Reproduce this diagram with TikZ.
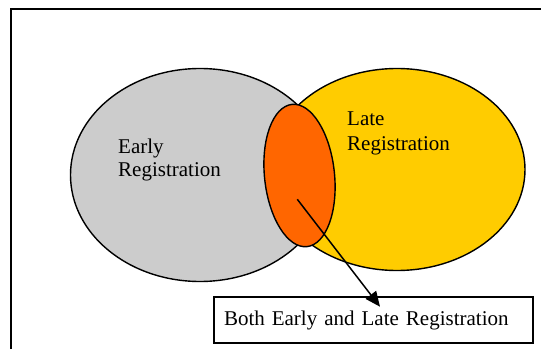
\documentclass[tikz,border=0pt]{standalone}
\usepackage{fontspec}
\setmainfont{Liberation Serif}
\usetikzlibrary{shapes.geometric,arrows.meta}
\definecolor{earlygray}{HTML}{CCCCCC}
\definecolor{lateyellow}{HTML}{FFCC00}
\definecolor{bothorange}{HTML}{FF6600}
\begin{document}
\begin{tikzpicture}[x=1pt,y=1pt,
  setshape/.style={ellipse, draw=black, line width=1.4pt, inner sep=0pt},
  lbl/.style={font=\fontsize{21}{23}\selectfont, inner sep=0pt, anchor=base west},
  framestyle/.style={line width=1.7pt},
  arrowstyle/.style={line width=1.5pt, -{Triangle[length=15pt,width=13pt]}},
  boxstyle/.style={draw=black, line width=1.7pt, minimum width=319pt, minimum height=46pt,
     inner sep=0pt, text width=299pt, align=left, font=\fontsize{21}{23}\selectfont}]
\useasboundingbox (0,0) rectangle (541,349);
\fill[white] (0,0) rectangle (541,349);
\coordinate (fbl) at (11,0);
\coordinate (ftl) at (11,340.3);
\coordinate (ftr) at (541,340.3);
\draw[framestyle] (fbl) -- (ftl) -- (ftr);
\node[setshape, fill=earlygray, minimum width=259pt, minimum height=213pt] (early) at (200,174) {};
\node[setshape, fill=lateyellow, minimum width=256pt, minimum height=202pt] (late) at (397,179.5) {};
\node[setshape, fill=bothorange, minimum width=70pt, minimum height=143pt, rotate=6] (both) at (299.5,173.5) {};
\node[lbl] (e1) at (118,196) {Early};
\node[lbl] (e2) at (118,173) {Registration};
\node[lbl] (l1) at (347,224) {Late};
\node[lbl] (l2) at (347,198.5) {Registration};
\node[boxstyle] (bothbox) at (373.5,29) {Both Early and Late Registration};
\coordinate (astart) at (297.3,149.7);
\coordinate (atip) at (380,42.3);
\draw[arrowstyle] (astart) -- (atip);
\end{tikzpicture}
\end{document}
